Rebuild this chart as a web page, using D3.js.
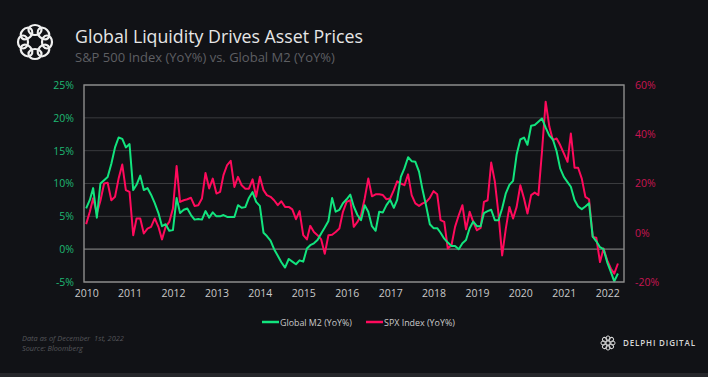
<!DOCTYPE html>
<html><head><meta charset="utf-8">
<script src="https://cdn.jsdelivr.net/npm/d3@7"></script>
<style>html,body{margin:0;padding:0;background:#111216;} svg{display:block}</style>
</head><body><svg id="c" width="708" height="377"></svg>
<script>
// ---- data ----
const firstMonth = [2010, 0]; // Jan 2010, monthly observations
const yearTicks = [2010,2011,2012,2013,2014,2015,2016,2017,2018,2019,2020,2021,2022];
const leftTicks = [-5,0,5,10,15,20,25];
const rightTicks = [-20,0,20,40,60];
const seriesNames = ["Global M2 (YoY%)", "SPX Index (YoY%)"];
const m2Values = [
 6.2,7.5,9.3,4.8,10.0,10.5,11.0,13.0,15.5,17.0,
 16.8,15.5,16.0,9.0,9.8,11.2,9.0,9.3,8.3,7.0,
 5.5,3.5,3.8,2.8,2.9,7.8,5.5,6.0,6.2,5.2,
 4.5,4.6,4.5,5.8,4.8,5.6,5.0,5.0,5.2,4.9,
 4.9,4.9,6.7,6.3,6.4,7.8,8.7,7.2,6.6,2.5,
 2.0,1.3,0.0,-1.0,-2.0,-2.8,-1.5,-1.9,-2.3,-1.7,
 -1.9,0.1,0.6,0.9,1.4,2.4,3.3,4.3,7.8,5.7,
 6.0,7.0,7.6,8.3,6.5,5.2,4.4,6.7,5.7,3.5,
 2.8,5.7,5.6,6.7,7.5,6.3,7.5,11.0,12.3,14.0,
 13.4,13.3,11.8,9.0,6.5,3.8,3.2,3.2,2.5,1.6,
 1.0,0.5,0.5,0.0,0.9,1.4,3.2,4.2,3.5,3.5,
 5.5,5.8,6.0,4.4,4.4,6.2,8.5,9.8,10.4,14.4,
 16.7,17.0,15.9,18.8,18.9,19.4,19.9,18.5,17.3,16.7,
 14.9,12.3,11.0,10.2,9.5,7.5,6.5,6.1,6.5,7.0,
 1.9,1.2,0.3,0.0,-2.0,-3.5,-4.9,-3.7
];
const spxValues = [
 3.5,8.5,14.0,7.8,13.0,20.0,20.3,13.2,14.6,22.0,
 27.7,17.3,16.6,-1.0,5.8,5.8,-0.3,1.7,2.4,5.8,
 2.4,-2.7,2.4,4.4,9.8,27.1,12.5,13.2,13.6,14.2,
 10.9,11.2,13.9,24.3,18.0,22.0,15.9,16.6,23.4,27.5,
 29.2,18.6,22.7,19.3,17.9,17.9,21.7,14.6,22.7,17.3,
 15.3,14.6,13.2,11.2,12.8,10.5,10.5,9.5,5.5,8.8,
 -1.0,-2.7,2.8,0.3,-1.0,-2.7,-8.5,-1.0,-0.8,0.3,
 1.7,8.5,12.5,13.2,2.4,4.4,7.1,13.9,22.0,14.8,
 15.6,15.6,15.3,13.6,13.9,17.3,20.9,20.0,19.3,23.7,
 15.3,11.9,10.9,11.9,12.5,14.2,16.9,15.6,5.1,4.4,
 -6.4,-5.1,2.4,7.1,11.2,1.4,8.5,4.4,1.0,2.0,
 12.5,13.2,28.5,20.7,7.8,-9.2,1.7,10.5,5.8,10.5,
 19.3,13.9,7.8,15.3,16.3,15.3,32.9,53.2,43.1,37.6,
 38.3,35.6,32.2,28.8,40.3,26.4,26.4,22.0,14.6,13.6,
 -1.7,-2.0,-11.9,-6.4,-11.2,-14.6,-16.6,-12.5
];

// ---- chart ----
const svg = d3.select("#c");
const W = 708, H = 377;
const P = {l:84, r:624, t:85, b:282};
const FONT = "'Open Sans', 'Noto Sans', sans-serif";
const C = {bg:"#111216", green:"#12e47e", red:"#ff0a5c", gLab:"#1fb873", rLab:"#c81552", grid:"#3a3b3e", frame:"#8d8d8d", text:"#c9c9c9"};

svg.append("rect").attr("width",W).attr("height",H).attr("fill",C.bg);
svg.append("rect").attr("x",0).attr("y",373).attr("width",W).attr("height",4).attr("fill","#25262a");

const dates = m2Values.map((_,i)=>new Date(firstMonth[0], firstMonth[1]+i, 1));
const x = d3.scaleTime().domain([new Date(2009,11,14), new Date(2022,4,22)]).range([P.l,P.r]);
const yL = d3.scaleLinear().domain([-5,25]).range([P.b,P.t]);
const yR = d3.scaleLinear().domain([-20,60]).range([P.b,P.t]);

function fit(sel, w){ const n=sel.node(); const cur=parseFloat(sel.attr("font-size")); const len=n.getComputedTextLength(); sel.attr("font-size", cur*w/len); return sel; }

// gridlines
svg.append("g").selectAll("line").data(leftTicks).join("line")
  .attr("x1",P.l).attr("x2",P.r).attr("y1",d=>yL(d)).attr("y2",d=>yL(d))
  .attr("stroke",d=>d===0?"#7a7a7a":C.grid).attr("stroke-width",d=>d===0?1.3:1);

// lines
const lineL = d3.line().x((d,i)=>x(dates[i])).y(d=>yL(d));
const lineR = d3.line().x((d,i)=>x(dates[i])).y(d=>yR(d));
svg.append("path").datum(spxValues).attr("d",lineR).attr("fill","none").attr("stroke",C.red).attr("stroke-width",2).attr("stroke-linejoin","round");
svg.append("path").datum(m2Values).attr("d",lineL).attr("fill","none").attr("stroke",C.green).attr("stroke-width",2).attr("stroke-linejoin","round");

// frame
svg.append("rect").attr("x",P.l).attr("y",P.t).attr("width",P.r-P.l).attr("height",P.b-P.t)
  .attr("fill","none").attr("stroke",C.frame).attr("stroke-width",1.4);

// axes
const ax = svg.append("g").attr("transform",`translate(0,${P.b})`)
  .call(d3.axisBottom(x).tickValues(yearTicks.map(y=>new Date(y,0,1))).tickFormat(d3.timeFormat("%Y")).tickSize(0).tickPadding(7.5));
ax.select(".domain").remove();
ax.selectAll("text").attr("fill",C.text).attr("font-size",10.5).attr("font-family",FONT);

const al = svg.append("g").attr("transform",`translate(${P.l},0)`)
  .call(d3.axisLeft(yL).tickValues(leftTicks).tickFormat(d=>d+"%").tickSize(0).tickPadding(10));
al.select(".domain").remove();
al.selectAll("text").attr("fill",C.gLab).attr("font-size",10.5).attr("font-family",FONT);

const ar = svg.append("g").attr("transform",`translate(${P.r},0)`)
  .call(d3.axisRight(yR).tickValues(rightTicks).tickFormat(d=>d+"%").tickSize(0).tickPadding(11));
ar.select(".domain").remove();
ar.selectAll("text").attr("fill",C.rLab).attr("font-size",10.5).attr("font-family",FONT);

// title
fit(svg.append("text").attr("x",75).attr("y",43).attr("font-size",20).attr("font-family",FONT).attr("fill","#e6e6e6").text("Global Liquidity Drives Asset Prices"),288);
fit(svg.append("text").attr("x",75).attr("y",62).attr("font-size",13).attr("font-family",FONT).attr("fill","#5e5f63").text("S&P 500 Index (YoY%) vs. Global M2 (YoY%)"),260);

// logo top-left
const lg = svg.append("g").attr("transform","translate(35,42)");
d3.range(8).forEach(i=>{ const a=i*Math.PI/4 - Math.PI/2; lg.append("ellipse").attr("cx",12*Math.cos(a)).attr("cy",12*Math.sin(a)).attr("rx",6.5).attr("ry",5).attr("transform",`rotate(${i*45},${12*Math.cos(a)},${12*Math.sin(a)})`).attr("fill","none").attr("stroke","#f0f0f0").attr("stroke-width",2.2); });

// legend
const legX=[262,366], legCol=[C.green,C.red], legW=[72,71];
seriesNames.forEach((n,i)=>{
  svg.append("line").attr("x1",legX[i]).attr("x2",legX[i]+17).attr("y1",322).attr("y2",322).attr("stroke",legCol[i]).attr("stroke-width",2.5);
  fit(svg.append("text").attr("x",legX[i]+18).attr("y",325.5).attr("font-size",9.5).attr("font-family",FONT).attr("fill",C.text).text(n),legW[i]);
});

// footer
fit(svg.append("text").attr("x",22).attr("y",341).attr("font-size",8).attr("font-style","italic").attr("font-family",FONT).attr("fill","#55565b").attr("xml:space","preserve").text("Data as of December  1st, 2022"),102);
fit(svg.append("text").attr("x",22).attr("y",351).attr("font-size",8).attr("font-style","italic").attr("font-family",FONT).attr("fill","#55565b").text("Source: Bloomberg"),61);

// brand bottom-right
const bg2 = svg.append("g").attr("transform","translate(608,343)");
d3.range(8).forEach(i=>{ const a=i*Math.PI/4; bg2.append("ellipse").attr("cx",4.5*Math.cos(a)).attr("cy",4.5*Math.sin(a)).attr("rx",2.6).attr("ry",2).attr("transform",`rotate(${i*45},${4.5*Math.cos(a)},${4.5*Math.sin(a)})`).attr("fill","none").attr("stroke","#d8d8d8").attr("stroke-width",1); });
svg.append("text").attr("x",623).attr("y",346).attr("font-size",8).attr("font-family",FONT).attr("font-weight",600)
  .attr("textLength",72).attr("lengthAdjust","spacing").attr("fill","#d8d8d8").text("DELPHI DIGITAL");
</script></body></html>
